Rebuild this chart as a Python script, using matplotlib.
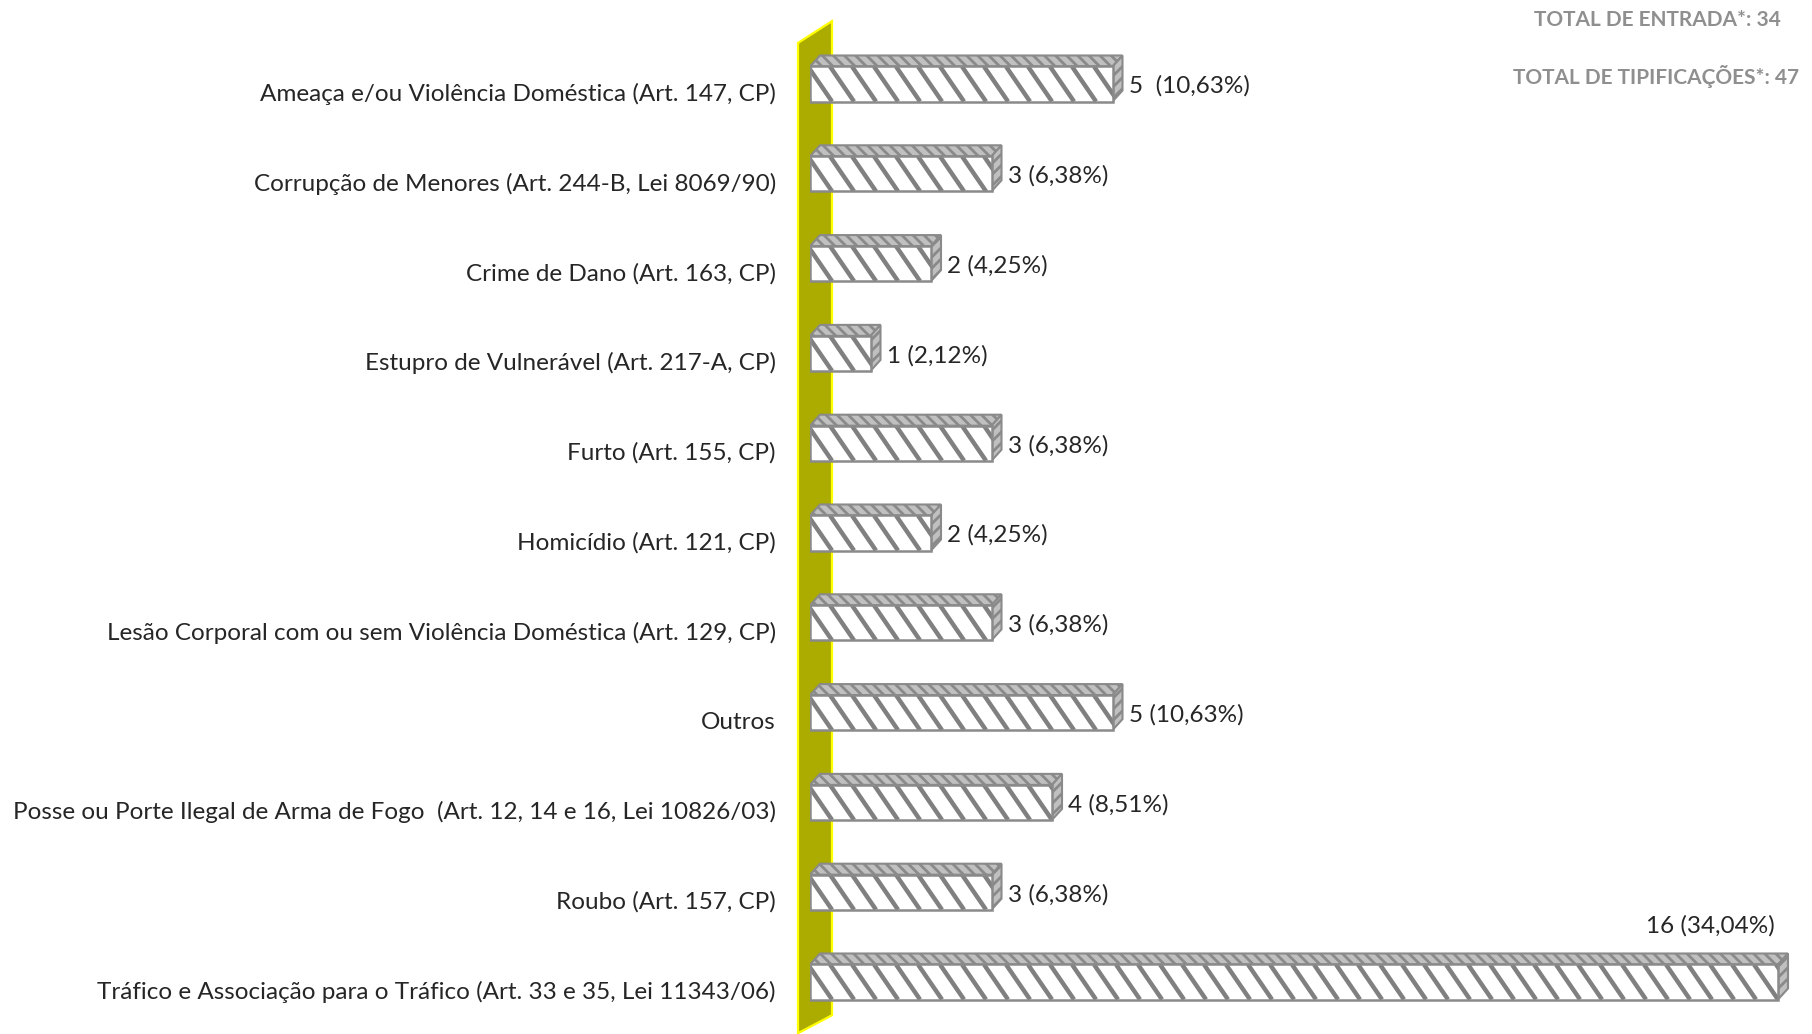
import numpy as np
import matplotlib
matplotlib.use("Agg")
import matplotlib.pyplot as plt
from matplotlib.patches import Polygon, Rectangle
from matplotlib.collections import LineCollection
from matplotlib.transforms import ScaledTranslation

categories = [
    "Ameaça e/ou Violência Doméstica (Art. 147, CP)",
    "Corrupção de Menores (Art. 244-B, Lei 8069/90)",
    "Crime de Dano (Art. 163, CP)",
    "Estupro de Vulnerável (Art. 217-A, CP)",
    "Furto (Art. 155, CP)",
    "Homicídio (Art. 121, CP)",
    "Lesão Corporal com ou sem Violência Doméstica (Art. 129, CP)",
    "Outros",
    "Posse ou Porte Ilegal de Arma de Fogo  (Art. 12, 14 e 16, Lei 10826/03)",
    "Roubo (Art. 157, CP)",
    "Tráfico e Associação para o Tráfico (Art. 33 e 35, Lei 11343/06)",
]
counts = [5, 3, 2, 1, 3, 2, 3, 5, 4, 3, 16]
value_labels = ["5  (10,63%)", "3 (6,38%)", "2 (4,25%)", "1 (2,12%)", "3 (6,38%)",
                "2 (4,25%)", "3 (6,38%)", "5 (10,63%)", "4 (8,51%)", "3 (6,38%)",
                "16 (34,04%)"]
totals = ["TOTAL DE ENTRADA*: 34", "TOTAL DE TIPIFICAÇÕES*: 47"]

W, H = 1812, 1034
plt.rcParams['font.family'] = ['Lato', 'DejaVu Sans']
plt.rcParams['hatch.linewidth'] = 2.0
plt.rcParams['hatch.color'] = '#7a7a7a'

fig = plt.figure(figsize=(W / 100, H / 100), dpi=100)
x0 = 810
ppu = 60.5          # pixels per count
rowpx = 89.8        # pixels per row
ax = fig.add_axes([x0 / W, 0, 1 - x0 / W, 1])
ax.set_xlim(0, (W - x0) / ppu)
ax.set_ylim((H - 84) / rowpx, -84 / rowpx)

dx = 10 / ppu
dy = 11 / rowpx
h = 0.195
grey = '#8a8a8a'
fs = 17.5

# side wall
wall = Polygon([(-12 / ppu, -0.457), (22 / ppu, -0.70), (22 / ppu, 10.37), (-12 / ppu, 10.57)],
               closed=True, facecolor='#abab00', edgecolor='#ffff00', lw=1.6, clip_on=False, zorder=1)
ax.add_patch(wall)

# stripe geometry for the front faces (pixels -> data)
step = 22 / ppu
shift = 24 / ppu

rows = np.arange(len(categories))
for i, v in zip(rows, counts):
    top = Polygon([(0, i - h), (dx, i - h - dy), (v + dx, i - h - dy), (v, i - h)],
                  facecolor='#c0c0c0', edgecolor=grey, hatch='\\\\\\', lw=1.5, zorder=3)
    side = Polygon([(v, i - h), (v + dx, i - h - dy), (v + dx, i + h - dy), (v, i + h)],
                   facecolor='#c0c0c0', edgecolor=grey, hatch='///', lw=1.5, zorder=3)
    front = Rectangle((0, i - h), v, 2 * h, facecolor='white', edgecolor='none', zorder=4)
    ax.add_patch(top)
    ax.add_patch(side)
    ax.add_patch(front)
    xs = np.arange(-shift, v + step, step)
    segs = [[(x, i - h), (x + shift, i + h)] for x in xs]
    lc = LineCollection(segs, colors='#808080', linewidths=3.2, zorder=5)
    ax.add_collection(lc)
    lc.set_clip_path(front)
    ax.add_patch(Rectangle((0, i - h), v, 2 * h, facecolor='none', edgecolor=grey,
                           lw=1.8, zorder=6))

for i, (v, lab) in enumerate(zip(counts, value_labels)):
    if v == max(counts):
        ax.text(v - 0.05, i - 0.63, lab, ha='right', va='center', fontsize=fs, color='#262626')
    else:
        ax.text(v + dx + 0.1, i + 0.025, lab, ha='left', va='center', fontsize=fs, color='#262626')

ax.set_yticks(rows, categories)
ax.tick_params(axis='y', length=0, pad=24.5, labelsize=fs, labelcolor='#262626')
off = ScaledTranslation(0, -0.08, fig.dpi_scale_trans)
for t in ax.get_yticklabels():
    t.set_transform(t.get_transform() + off)
ax.set_xticks([])
for s in ax.spines.values():
    s.set_visible(False)

fig.text(1781 / W, 1 - 20 / H, totals[0], ha='right', va='center', fontsize=15,
         weight='bold', color='#8f8f8f')
fig.text(1799 / W, 1 - 77 / H, totals[1], ha='right', va='center', fontsize=15,
         weight='bold', color='#8f8f8f')

fig.savefig('out.png', dpi=100)
